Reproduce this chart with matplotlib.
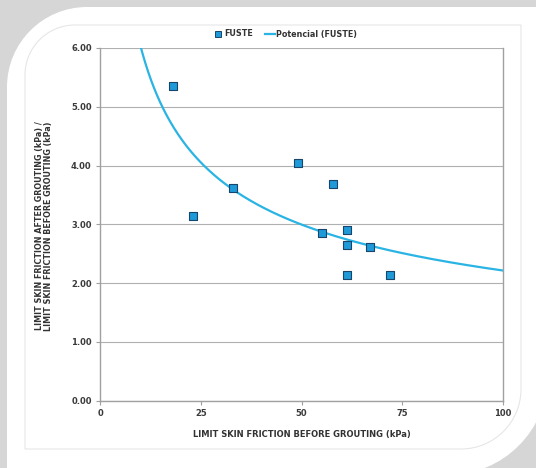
import numpy as np
import matplotlib
matplotlib.use("Agg")
import matplotlib.pyplot as plt
from matplotlib.path import Path
from matplotlib.patches import PathPatch
from matplotlib.lines import Line2D

plt.rcParams["font.family"] = ["DejaVu Sans"]

# ---- data ----
skin_before = [18.2, 23.1, 33.0, 49.2, 57.9, 55.1, 61.2, 61.2, 67.0, 61.2, 72.0]
ratio = [5.35, 3.14, 3.62, 4.05, 3.68, 2.86, 2.90, 2.64, 2.61, 2.14, 2.14]
x_ticks = [0, 25, 50, 75, 100]
y_ticks = [0, 1, 2, 3, 4, 5, 6]
series_name = "FUSTE"
trend_name = "Potencial (FUSTE)"
x_label = "LIMIT SKIN FRICTION BEFORE GROUTING (kPa)"
y_label = "LIMIT SKIN FRICTION AFTER GROUTING (kPa) /\nLIMIT SKIN FRICTION BEFORE GROUTING (kPa)"

W, H = 536, 468
fig = plt.figure(figsize=(W / 100, H / 100), dpi=100)
fig.patch.set_facecolor("#d6d6d6")


def rounded_path(x0, y0, x1, y1, r_tl, r_br):
    def P(x, y):
        return (x / W, 1 - y / H)
    k = 0.5523
    verts = [P(x0, y0 + r_tl),
             P(x0, y0 + r_tl - k * r_tl), P(x0 + r_tl - k * r_tl, y0), P(x0 + r_tl, y0),
             P(x1, y0),
             P(x1, y1 - r_br),
             P(x1, y1 - r_br + k * r_br), P(x1 - r_br + k * r_br, y1), P(x1 - r_br, y1),
             P(x0, y1),
             P(x0, y0 + r_tl)]
    codes = [Path.MOVETO, Path.CURVE4, Path.CURVE4, Path.CURVE4, Path.LINETO,
             Path.LINETO, Path.CURVE4, Path.CURVE4, Path.CURVE4, Path.LINETO, Path.CLOSEPOLY]
    return Path(verts, codes)


outer = PathPatch(rounded_path(7, 7, 548, 475, 80, 100), transform=fig.transFigure,
                  facecolor="white", edgecolor="none", zorder=-2)
fig.patches.append(outer)
inner = PathPatch(rounded_path(25, 25, 521, 449, 50, 60), transform=fig.transFigure,
                  facecolor="none", edgecolor="#e6e6e6", lw=0.8, zorder=-1)
fig.patches.append(inner)

ax = fig.add_axes([100 / W, 1 - 400.7 / H, (503 - 100) / W, (400.7 - 47.9) / H])
ax.set_zorder(2)
ax.set_facecolor("none")
ax.set_xlim(0, 100)
ax.set_ylim(0, 6)

# power trendline (least squares on log-log)
b, lna = np.polyfit(np.log(skin_before), np.log(ratio), 1)
xs = np.linspace(1, 100, 400)
ax.plot(xs, np.exp(lna) * xs ** b, color="#2ab4e4", lw=1.6, zorder=3, clip_on=True)

ax.scatter(skin_before, ratio, marker="s", s=30, facecolor="#1f9ad8",
           edgecolor="#17456b", linewidth=0.8, zorder=4)

ax.set_xticks(x_ticks)
ax.set_yticks(y_ticks)
ax.set_yticklabels([f"{v:.2f}" for v in y_ticks])
ax.grid(axis="y", color="#b0b0b0", lw=0.8)
ax.set_axisbelow(True)
for s in ["left", "bottom", "right"]:
    ax.spines[s].set_color("#a0a0a0")
    ax.spines[s].set_linewidth(1.0)
ax.spines["top"].set_visible(False)
ax.tick_params(axis="both", length=3, color="#a0a0a0", labelsize=6.0,
               labelcolor="#3a3a3a", pad=3)
for t in ax.get_xticklabels() + ax.get_yticklabels():
    t.set_fontweight("bold")

fig.text(302 / W, 1 - 435 / H, x_label, ha="center", va="center",
         fontsize=6.0, fontweight="bold", color="#333333")
fig.text(44 / W, 1 - 226 / H, y_label, ha="center", va="center", rotation=90,
         fontsize=5.8, fontweight="bold", color="#333333", linespacing=1.1)

handles = [Line2D([], [], marker="s", ls="none", markersize=5, markerfacecolor="#1f9ad8",
                  markeredgecolor="#17456b", markeredgewidth=0.7),
           Line2D([], [], color="#2ab4e4", lw=1.6)]
leg = fig.legend(handles, [series_name, trend_name], loc="center",
                 bbox_to_anchor=(285 / W, 1 - 34 / H), ncol=2, frameon=False,
                 prop={"size": 5.8, "weight": "bold"}, handlelength=1.2,
                 handletextpad=0.2, columnspacing=1.5)
for t in leg.get_texts():
    t.set_color("#333333")

fig.savefig("out.png", dpi=100, facecolor=fig.get_facecolor())
